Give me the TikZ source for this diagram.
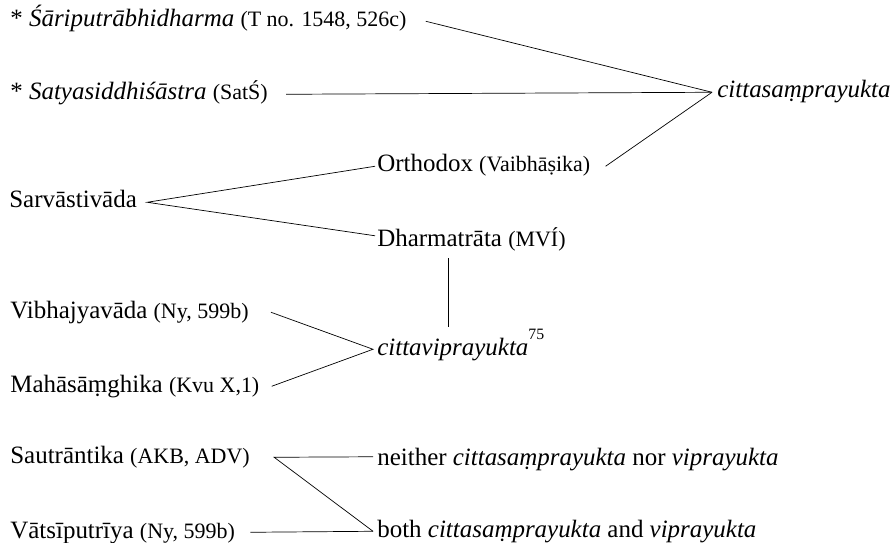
\documentclass[tikz,border=0pt]{standalone}
\usepackage{fontspec}
\setmainfont{Liberation Serif}
\newcommand{\srcref}[1]{{\fontsize{12.5}{15}\selectfont(#1)}}
\newcommand{\fnmark}[1]{\raisebox{0.64em}{\fontsize{9}{9}\selectfont#1}}
\begin{document}
\fontsize{14.2}{17}\selectfont
\begin{tikzpicture}[x=1cm,y=1cm,>=stealth,
    lbl/.style={anchor=base west,inner sep=0pt,text height=1ex,text depth=0pt}]
    \useasboundingbox (0,0) rectangle (17.84,-10.86);

    % schools and texts
    \node[lbl] (sari) at (0.2,-0.54) {* \textit{Śāriputrābhidharma} \srcref{T no. 1548, 526c}};
    \node[lbl] (satya) at (0.2,-2.0) {* \textit{Satyasiddhiśāstra} \srcref{SatŚ}};
    \node[lbl] (sarva) at (0.18,-4.16) {Sarvāstivāda};
    \node[lbl] (vibha) at (0.2,-6.36) {Vibhajyavāda \srcref{Ny, 599b}};
    \node[lbl] (maha) at (0.2,-7.84) {Mahāsāṃghika \srcref{Kvu X,1}};
    \node[lbl] (sautr) at (0.2,-9.26) {Sautrāntika \srcref{AKB, ADV}};
    \node[lbl] (vatsi) at (0.2,-10.76) {Vātsīputrīya \srcref{Ny, 599b}};

    \node[lbl] (ortho) at (7.54,-3.44) {Orthodox \srcref{Vaibhāṣika}};
    \node[lbl] (dharma) at (7.54,-4.94) {Dharmatrāta \srcref{MVÍ}};

    % positions
    \node[lbl] (samp) at (14.34,-1.96) {\textit{cittasaṃprayukta}};
    \node[lbl] (vipr) at (7.54,-7.10) {\textit{cittaviprayukta}\fnmark{75}};
    \node[lbl] (neither) at (7.54,-9.30) {neither \textit{cittasaṃprayukta} nor \textit{viprayukta}};
    \node[lbl] (both) at (7.54,-10.74) {both \textit{cittasaṃprayukta} and \textit{viprayukta}};

    \foreach \a/\s in {sari/0.38,satya/0.36,ortho/0.3}
        \draw ([xshift=\s cm]\a.east) -- ([xshift=-0.1cm]samp.west);
    \draw ([xshift=-0.04cm]ortho.west) -- ([xshift=0.2cm]sarva.east) -- ([xshift=-0.04cm,yshift=0.11cm]dharma.west);
    \draw ([xshift=1.42cm,yshift=-0.22cm]dharma.base west) -- ([xshift=1.42cm,yshift=0.56cm]vipr.base west);
    \draw ([xshift=0.44cm]vibha.east) -- ([xshift=-0.08cm]vipr.west) -- ([xshift=0.24cm]maha.east);
    \draw ([xshift=-0.08cm,yshift=0.05cm]neither.west) -- ([xshift=0.48cm]sautr.east) -- ([xshift=-0.08cm]both.west);
    \draw ([xshift=0.3cm]vatsi.east) -- ([xshift=-0.08cm]both.west);
\end{tikzpicture}
\end{document}
